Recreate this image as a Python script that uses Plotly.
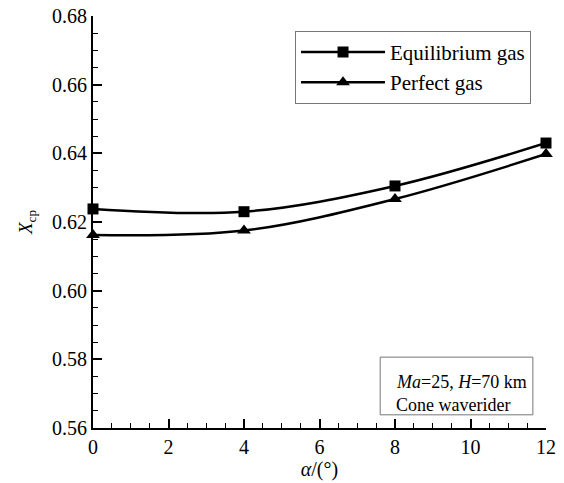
import plotly.graph_objects as go

alpha = [0, 4, 8, 12]
equilibrium = [0.6238, 0.6230, 0.6305, 0.6430]
perfect = [0.6162, 0.6175, 0.6267, 0.6398]
x_ticks = [0, 2, 4, 6, 8, 10, 12]
y_ticks = [0.56, 0.58, 0.60, 0.62, 0.64, 0.66, 0.68]

FONT = "Liberation Serif, Times New Roman, serif"

fig = go.Figure()
fig.add_trace(go.Scatter(
    x=alpha, y=equilibrium, name="Equilibrium gas",
    mode="lines+markers", line=dict(color="black", width=2.5, shape="spline"),
    marker=dict(symbol="square", size=11, color="black"),
    cliponaxis=False))
fig.add_trace(go.Scatter(
    x=alpha, y=perfect, name="Perfect gas",
    mode="lines+markers", line=dict(color="black", width=2.5, shape="spline"),
    marker=dict(symbol="triangle-up", size=12, color="black"),
    cliponaxis=False))

fig.update_layout(
    width=564, height=483,
    margin=dict(l=93, r=18, t=16, b=55),
    paper_bgcolor="white", plot_bgcolor="white",
    font=dict(family=FONT, color="black", size=19),
    showlegend=True,
    legend=dict(x=0.446, y=0.964, xanchor="left", yanchor="top",
                bordercolor="#777777", borderwidth=1, bgcolor="white",
                font=dict(family=FONT, size=21), itemwidth=84,
                tracegroupgap=0),
)
fig.update_xaxes(
    range=[0, 12], tickvals=x_ticks, ticktext=[str(v) for v in x_ticks],
    automargin=False,
    showgrid=False, zeroline=False, showline=True, linecolor="black", linewidth=2,
    ticks="inside", ticklen=9, tickwidth=2, tickcolor="black",
    minor=dict(dtick=0.5, ticks="inside", ticklen=5, tickwidth=1, tickcolor="black", showgrid=False),
    tickfont=dict(family=FONT, size=20),
    title=dict(text="<i>α</i>/(°)", font=dict(family=FONT, size=20), standoff=4),
)
fig.update_yaxes(
    range=[0.56, 0.68], tickvals=y_ticks, ticktext=["%.2f" % v for v in y_ticks],
    automargin=False,
    showgrid=False, zeroline=False, showline=True, linecolor="black", linewidth=2,
    ticks="inside", ticklen=9, tickwidth=2, tickcolor="black",
    minor=dict(dtick=0.005, ticks="inside", ticklen=5, tickwidth=1, tickcolor="black", showgrid=False),
    tickfont=dict(family=FONT, size=20),
    title=dict(text="<i>X</i><sub>cp</sub>", font=dict(family=FONT, size=19), standoff=14),
)

fig.add_shape(type="rect", xref="paper", yref="paper",
              x0=0.634, x1=0.971, y0=0.032, y1=0.172,
              line=dict(color="#777777", width=1), fillcolor="white", layer="above")
fig.add_annotation(xref="paper", yref="paper", x=0.665, y=0.112,
                   text="<i>Ma</i>=25, <i>H</i>=70 km", showarrow=False,
                   font=dict(family=FONT, size=18), xanchor="left", yanchor="middle")
fig.add_annotation(xref="paper", yref="paper", x=0.665, y=0.055,
                   text="Cone waverider", showarrow=False,
                   font=dict(family=FONT, size=18), xanchor="left", yanchor="middle")

fig.write_html("out.html")
